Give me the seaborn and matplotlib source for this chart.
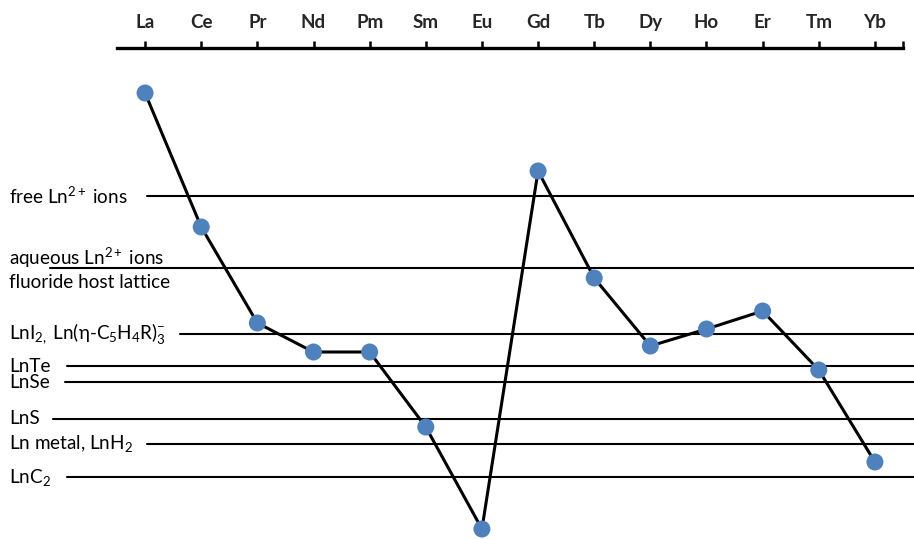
import matplotlib
matplotlib.use("Agg")
import matplotlib.pyplot as plt
import matplotlib.transforms as mtransforms
import seaborn as sns
import pandas as pd

# relative energy of the Ln(II) 4f^n -> 4f^(n-1)5d transition (arbitrary units, up = higher)
elements = ["La", "Ce", "Pr", "Nd", "Pm", "Sm", "Eu", "Gd", "Tb", "Dy", "Ho", "Er", "Tm", "Yb"]
energy = [446, 312, 216, 187, 187, 112, 10, 368, 261, 193, 210, 228, 169, 77]

# reference levels for the different environments
level_labels = [
    r"free Ln$^{\mathregular{2+}}$ ions",
    "aqueous Ln$^{\\mathregular{2+}}$ ions\nfluoride host lattice",
    r"LnI$_{\mathregular{2,}}$ Ln(η-C$_{\mathregular{5}}$H$_{\mathregular{4}}$R)$_{\mathregular{3}}^{\mathregular{-}}$",
    "LnTe",
    "LnSe",
    "LnS",
    r"Ln metal, LnH$_{\mathregular{2}}$",
    r"LnC$_{\mathregular{2}}$",
]
level_energy = [343, 271, 205, 173, 157, 120, 95, 62]
# where each level line begins (figure pixels from the left)
line_start_px = [147, 50, 180, 67, 65, 53, 147, 67]

df = pd.DataFrame({"element": elements, "energy": energy})
df["pos"] = range(len(df))

sns.set_theme(style="white")
plt.rcParams["font.family"] = ["Lato", "DejaVu Sans"]
plt.rcParams["mathtext.fontset"] = "custom"
plt.rcParams["mathtext.rm"] = "Lato"
plt.rcParams["mathtext.it"] = "Lato:italic"
plt.rcParams["mathtext.bf"] = "Lato:bold"

W, H = 914, 539
fig = plt.figure(figsize=(W / 100, H / 100), dpi=100)
ax = fig.add_axes([117 / W, 0, (903 - 117) / W, (H - 48) / H])

ax.set_xlim(-0.5, 13.5)
ax.set_ylim(0, H - 48)

# level lines + labels
trans = mtransforms.blended_transform_factory(fig.transFigure, ax.transData)
for lab, e, x0 in zip(level_labels, level_energy, line_start_px):
    ax.plot([x0 / W, 1.0], [e, e], color="black", lw=1.5, transform=trans,
            clip_on=False, zorder=1)
    ax.text(9 / W, e, lab, transform=trans, ha="left", va="center",
            fontsize=13.6, color="black", linespacing=1.3, zorder=2)

sns.lineplot(data=df, x="pos", y="energy", color="black", lw=2.2, ax=ax,
             zorder=3, clip_on=False)
sns.scatterplot(data=df, x="pos", y="energy", color="#4f81bd", s=150,
                edgecolor="none", ax=ax, zorder=4, clip_on=False)

# top ruler with element names
for side in ["left", "right", "bottom"]:
    ax.spines[side].set_visible(False)
ax.spines["top"].set_linewidth(2.4)
ax.spines["top"].set_color("black")
ax.xaxis.tick_top()
ax.set_xticks(df["pos"])
ax.set_xticklabels(elements, fontsize=13.5, fontweight="bold")
ax.set_xticks([13.5], minor=True)
ax.tick_params(axis="x", which="both", top=True, bottom=False, direction="out",
               length=5, width=1.8, color="black", pad=7)
ax.set_yticks([])
ax.set_xlabel("")
ax.set_ylabel("")

fig.savefig("out.png", dpi=100)
